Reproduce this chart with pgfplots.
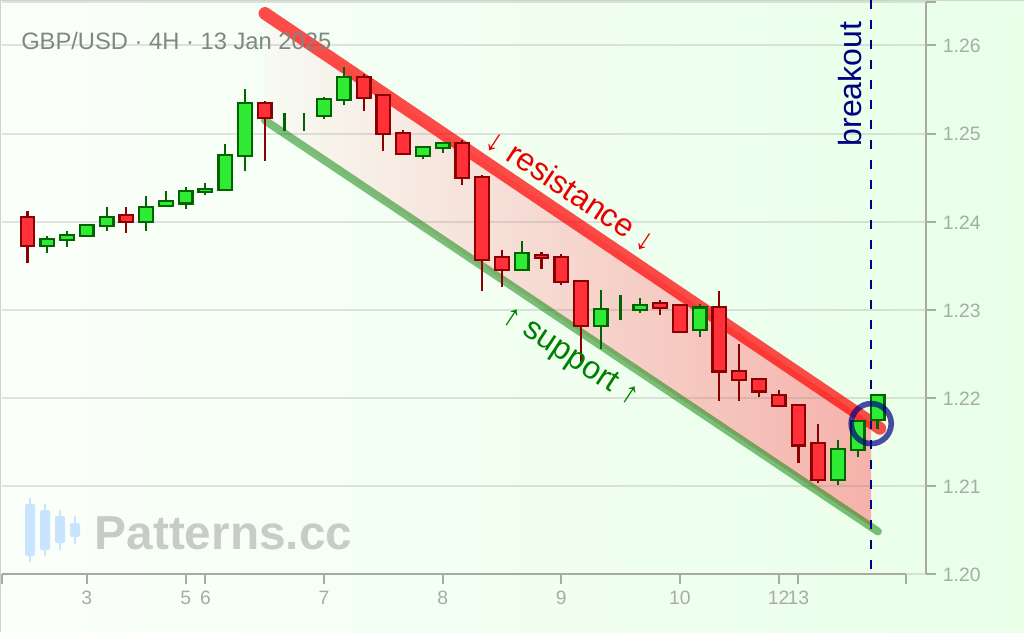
\documentclass[border=0pt]{standalone}
\usepackage{fontspec}
\setmainfont{Liberation Sans}
\usepackage{pgfplots}
\pgfplotsset{compat=1.18}

\definecolor{bgleft}{HTML}{FBFFFA}
\definecolor{bgright}{HTML}{E8FFE8}
\definecolor{frameline}{HTML}{CCD4CC}
\definecolor{axisgray}{HTML}{A8AAA5}
\definecolor{ticktext}{HTML}{A8ACA8}
\definecolor{upfill}{HTML}{2FEB33}
\definecolor{upline}{HTML}{006400}
\definecolor{downfill}{HTML}{FF3038}
\definecolor{downline}{HTML}{8B0000}
\definecolor{navyline}{HTML}{000080}
\definecolor{logoblue}{HTML}{C8E4FF}
\definecolor{markgray}{HTML}{C8CCC8}
\definecolor{titlegray}{HTML}{7F8880}
\definecolor{bandleft}{HTML}{F7FBF3}
\definecolor{bandright}{HTML}{F5B2AA}

% 1 px of the reference = 0.75pt
\pgfplotsset{
  every axis/.append style={
    scale only axis,
    ymin=1.2, ymax=1.26488,
    height=428.7pt,
    tick label style={font=\fontsize{14.5}{14.5}\selectfont, color=ticktext},
    major tick length=7.7pt,
    tick style={draw=axisgray, line width=1.5pt},
  },
}

% #1 index, #2 low, #3 body bottom, #4 body top, #5 high, #6 up or down
\newcommand{\candle}[6]{%
  \pgfmathsetmacro{\xa}{#1-0.345}%
  \pgfmathsetmacro{\xb}{#1+0.345}%
  \addplot[draw=#6line, line width=1.6pt] coordinates {(#1,#2) (#1,#3)};
  \addplot[draw=#6line, line width=1.6pt] coordinates {(#1,#4) (#1,#5)};
  \addplot[draw=#6line, fill=#6fill, line width=1.7pt]
    coordinates {(\xa,#3) (\xb,#3) (\xb,#4) (\xa,#4)} --cycle;
}
\newcommand{\up}[5]{\candle{#1}{#2}{#3}{#4}{#5}{up}}
\newcommand{\down}[5]{\candle{#1}{#2}{#3}{#4}{#5}{down}}

\begin{document}
\begin{tikzpicture}
\useasboundingbox (0,0) rectangle (768pt,-474pt);
\begin{scope}[x=0.75pt, y=-0.75pt]
  \shade[left color=bgleft, right color=bgright] (0,0) rectangle (1024,632);
  \draw[frameline, line width=1.2pt] (0.5,632) -- (0.5,0.5) -- (1024,0.5);
  % logo
  \foreach \cx/\wt/\bt/\bb/\wb in {30/498/504/556/562, 45/504/510/550/556, 60/510/516/543/550, 75/516/523/537/544}{
    \draw[logoblue, line width=1.5pt] (\cx,\wt) -- (\cx,\wb);
    \fill[logoblue, rounded corners=1.5pt] (\cx-5,\bt) rectangle (\cx+5,\bb);
  }
  \node[anchor=base west, inner sep=0pt, font=\fontsize{35.8}{35.8}\selectfont\bfseries, text=markgray] at (94.5,549) {Patterns.cc};
\end{scope}

% band, grid and price axis
\begin{axis}[
  at={(1.5pt,-430.5pt)}, anchor=south west,
  width=693pt,
  xmin=-1.29, xmax=45.45,
  axis x line=none,
  axis y line=right,
  y axis line style={draw=axisgray, line width=1.8pt, -},
  axis on top,
  ytick={1.20,1.21,1.22,1.23,1.24,1.25,1.26,1.26488},
  yticklabels={1.20,1.21,1.22,1.23,1.24,1.25,1.26,},
  yticklabel style={xshift=1.5pt, yshift=-0.5pt},
  ymajorgrids,
  grid style={draw=gray, opacity=0.22, line width=1.5pt},
  ytick align=outside,
]
\addplot[draw=none, left color=bandleft, right color=bandright, shading=axis]
  coordinates {(12.01,1.26363) (42.67,1.21721) (42.67,1.20540) (12.01,1.25149)} --cycle;
\end{axis}

% time axis, channel and candles
\begin{axis}[
  at={(1.5pt,-430.5pt)}, anchor=south west,
  width=678pt,
  xmin=-1.29, xmax=44.44,
  axis y line=none,
  axis x line=bottom,
  x axis line style={draw=axisgray, line width=1.8pt, -},
  xtick align=outside,
  xtick={-1.29,3,8,9,15,21,27,33,38,39,44.44},
  xticklabels={,3,5,6,7,8,9,10,12,13,},
  xticklabel style={yshift=-1.5pt},
  clip=false,
]
\addplot[red, opacity=0.7, line width=9.5pt, line cap=round]
  coordinates {(12.01,1.26363) (43.12,1.21653)};
\addplot[green!50!black, opacity=0.5, line width=6pt, line cap=round]
  coordinates {(12.01,1.25149) (43.02,1.20483)};
\addplot[navyline, line width=2.2pt, dash pattern=on 6.5pt off 8.5pt]
  coordinates {(42.67,1.26510) (42.67,1.20047)};

\down{0}{1.23529}{1.23722}{1.24051}{1.24116}
\up{1}{1.23643}{1.23722}{1.23801}{1.23840}
\up{2}{1.23711}{1.23795}{1.23851}{1.23889}
\up{3}{1.23821}{1.23840}{1.23960}{1.23976}
\up{4}{1.23892}{1.23954}{1.24051}{1.24161}
\down{5}{1.23870}{1.23999}{1.24078}{1.24161}
\up{6}{1.23892}{1.23999}{1.24165}{1.24294}
\up{7}{1.24161}{1.24181}{1.24237}{1.24343}
\up{8}{1.24139}{1.24207}{1.24346}{1.24388}
\up{9}{1.24297}{1.24339}{1.24369}{1.24434}
\up{10}{1.24362}{1.24362}{1.24755}{1.24884}
\up{11}{1.24570}{1.24748}{1.25345}{1.25501}
\down{12}{1.24687}{1.25179}{1.25345}{1.25364}
\addplot[upline, line width=1.6pt] coordinates {(13,1.25027) (13,1.25228)};
\addplot[upline, line width=1.6pt] coordinates {(14,1.25027) (14,1.25228)};
\up{15}{1.25160}{1.25202}{1.25391}{1.25410}
\up{16}{1.25319}{1.25384}{1.25640}{1.25754}
\down{17}{1.25254}{1.25406}{1.25640}{1.25679}
\down{18}{1.24800}{1.24998}{1.25440}{1.25440}
\down{19}{1.24751}{1.24771}{1.25009}{1.25043}
\up{20}{1.24706}{1.24748}{1.24846}{1.24846}
\up{21}{1.24778}{1.24839}{1.24891}{1.24891}
\down{22}{1.24411}{1.24498}{1.24891}{1.24930}
\down{23}{1.23211}{1.23568}{1.24505}{1.24524}
\down{24}{1.23257}{1.23454}{1.23597}{1.23681}
\up{25}{1.23454}{1.23454}{1.23643}{1.23775}
\down{26}{1.23458}{1.23590}{1.23624}{1.23658}
\down{27}{1.23276}{1.23318}{1.23597}{1.23636}
\down{28}{1.22402}{1.22819}{1.23325}{1.23325}
\up{29}{1.22553}{1.22819}{1.23007}{1.23227}
\addplot[upline, line width=1.6pt] coordinates {(30,1.22879) (30,1.23162)};
\up{31}{1.22962}{1.23000}{1.23052}{1.23136}
\down{32}{1.22935}{1.23018}{1.23075}{1.23114}
\down{33}{1.22750}{1.22750}{1.23052}{1.23068}
\up{34}{1.22689}{1.22773}{1.23026}{1.23068}
\down{35}{1.21963}{1.22300}{1.23030}{1.23208}
\down{36}{1.21963}{1.22206}{1.22303}{1.22614}
\down{37}{1.22008}{1.22073}{1.22213}{1.22224}
\down{38}{1.21903}{1.21911}{1.22031}{1.22092}
\down{39}{1.21259}{1.21460}{1.21917}{1.21929}
\down{40}{1.21036}{1.21071}{1.21486}{1.21706}
\up{41}{1.21009}{1.21071}{1.21418}{1.21525}
\up{42}{1.21327}{1.21411}{1.21736}{1.21744}
\up{43}{1.21645}{1.21752}{1.22031}{1.22047}

% breakout circle
\addplot[only marks, mark=o, mark size=15pt,
  mark options={draw=navyline, opacity=0.7, line width=4.2pt}]
  coordinates {(42.68,1.21707)};
\end{axis}

\begin{scope}[x=0.75pt, y=-0.75pt]
  \node[anchor=base west, inner sep=0pt, font=\fontsize{17.8}{17.8}\selectfont, text=titlegray] at (21,49.5) {GBP/USD · 4H · 13 Jan 2025};
  \node[rotate=-33.5, inner sep=0pt, font=\fontsize{24}{24}\selectfont, text=red!92!black] at (571.5,190) {↓ resistance ↓};
  \node[rotate=-33.5, inner sep=0pt, font=\fontsize{24}{24}\selectfont, text=green!50!black] at (570,357.5) {↑ support ↑};
  \node[rotate=90, inner sep=0pt, font=\fontsize{24}{24}\selectfont, text=navyline] at (850,84) {breakout};
\end{scope}
\end{tikzpicture}
\end{document}
